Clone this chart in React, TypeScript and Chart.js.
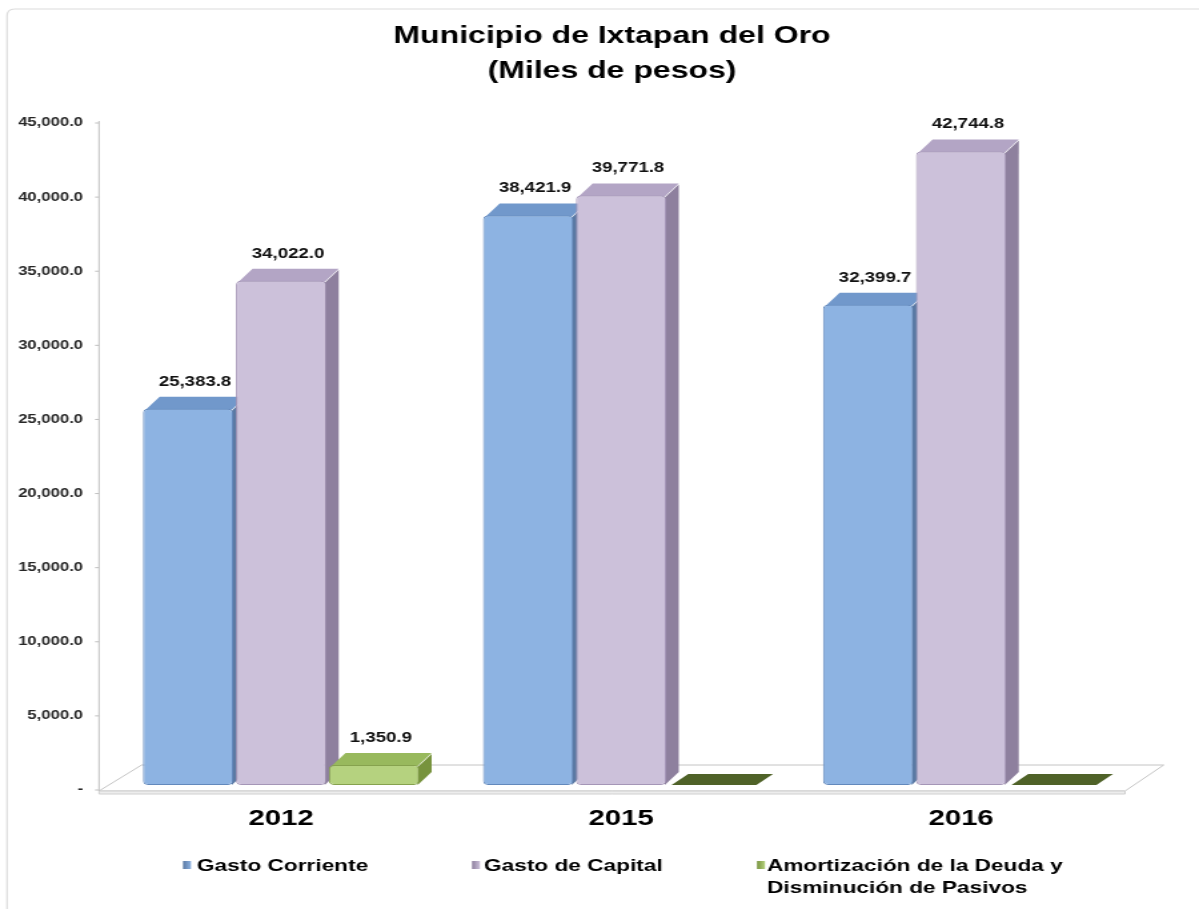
import React, { useEffect, useRef } from 'react';
import { Chart, registerables } from 'chart.js';

Chart.register(...registerables);

// ---- data ----
const categories = ['2012', '2015', '2016'];
const gastoCorriente = [25383.8, 38421.9, 32399.7];
const gastoCapital = [34022.0, 39771.8, 42744.8];
const amortizacion = [1350.9, 0, 0];
const seriesNames = ['Gasto Corriente', 'Gasto de Capital', 'Amortización de la Deuda y Disminución de Pasivos'];
const legendLines = [['Gasto Corriente'], ['Gasto de Capital'], ['Amortización de la Deuda y', 'Disminución de Pasivos']];
const titleLines = ['Municipio de Ixtapan del Oro', '(Miles de pesos)'];
const yMin = 0;
const yMax = 45000;
const yStep = 5000;

// ---- styling ----
const CANVAS_W = 900; // internal width, displayed stretched to 1199
const CANVAS_H = 909;
const SX = 1199 / CANVAS_W;
const DX = 10.5;
const DY = 13;
const FONT = "'Liberation Sans', Arial, sans-serif";

const palette = [
  { front: '#8DB3E2', border: '#6389BC', top: '#7198CB', side: '#5A79A3' },
  { front: '#CCC1DA', border: '#A596B7', top: '#B3A5C5', side: '#8E809E' },
  { front: '#B5D27F', border: '#86A24E', top: '#98B95D', side: '#77933D' },
];
const FLAT = '#4F6228';

const fmt = (v: number) =>
  v.toLocaleString('en-US', { minimumFractionDigits: 1, maximumFractionDigits: 1 });

const poly = (ctx: CanvasRenderingContext2D, pts: number[][], fill: string, stroke?: string) => {
  ctx.beginPath();
  ctx.moveTo(pts[0][0], pts[0][1]);
  for (let i = 1; i < pts.length; i++) ctx.lineTo(pts[i][0], pts[i][1]);
  ctx.closePath();
  ctx.fillStyle = fill;
  ctx.fill();
  if (stroke) {
    ctx.strokeStyle = stroke;
    ctx.lineWidth = 1;
    ctx.stroke();
  }
};

const excel3d = {
  id: 'excel3d',
  beforeDatasetsDraw(chart: any) {
    const ctx: CanvasRenderingContext2D = chart.ctx;
    const ys = chart.scales.y;
    const base = ys.getPixelForValue(0);
    const top = ys.getPixelForValue(yMax);
    ctx.save();

    // outer frame
    ctx.strokeStyle = '#DCDCDC';
    ctx.lineWidth = 1.2;
    ctx.beginPath();
    ctx.moveTo(5.3, CANVAS_H);
    ctx.lineTo(5.3, 16);
    ctx.quadraticCurveTo(5.3, 9, 11, 9);
    ctx.lineTo(CANVAS_W, 9);
    ctx.stroke();

    // floor
    const fl = 74.3, fr = 844.5, fy = base + 6, by = base - 20;
    poly(ctx, [[fl, fy], [fr, fy], [fr + 29, by], [fl + 32, by]], '#FFFFFF', '#C4C4C4');
    poly(ctx, [[fl, fy], [fr, fy], [fr, fy + 3], [fl, fy + 3]], '#EDEDED', '#D0D0D0');

    // y axis line + tick marks
    ctx.strokeStyle = '#BFBFBF';
    ctx.lineWidth = 1;
    ctx.beginPath();
    ctx.moveTo(fl, top + 3);
    ctx.lineTo(fl, fy);
    ctx.stroke();
    ys.ticks.forEach((t: any) => {
      const py = ys.getPixelForValue(t.value) + 5;
      ctx.beginPath();
      ctx.moveTo(fl - 3, py);
      ctx.lineTo(fl, py);
      ctx.stroke();
    });

    // 3D side and top faces
    chart.data.datasets.forEach((ds: any, di: number) => {
      const meta = chart.getDatasetMeta(di);
      const c = palette[di];
      meta.data.forEach((bar: any, i: number) => {
        const p = bar.getProps(['x', 'y', 'width', 'base'], true);
        const l = p.x - p.width / 2;
        const r = p.x + p.width / 2;
        const v = ds.data[i];
        if (v > 0) {
          poly(ctx, [[r - 1, p.y + 2], [r + DX - 1, p.y - DY + 2], [r + DX - 1, p.base - DY], [r - 1, p.base]], c.side);
          poly(ctx, [[l + 2, p.y + 1], [l + DX + 2, p.y - DY + 1], [r + DX - 1, p.y - DY + 1], [r - 1, p.y + 1]], c.top);
        } else {
          poly(ctx, [[l + 2, p.base], [r - 2, p.base], [r + DX, p.base - DY + 2], [l + DX + 4, p.base - DY + 2]], FLAT);
        }
      });
    });
    ctx.restore();
  },
  afterDatasetsDraw(chart: any) {
    const ctx: CanvasRenderingContext2D = chart.ctx;
    ctx.save();
    ctx.font = 'bold 14px ' + FONT;
    ctx.fillStyle = '#111111';
    ctx.textAlign = 'center';
    ctx.textBaseline = 'bottom';
    chart.data.datasets.forEach((ds: any, di: number) => {
      const meta = chart.getDatasetMeta(di);
      meta.data.forEach((bar: any, i: number) => {
        const v = ds.data[i];
        if (!(v > 0)) return;
        const p = bar.getProps(['x', 'y'], true);
        ctx.fillText(fmt(v), p.x + DX / 2, p.y - DY - 7);
      });
    });
    ctx.restore();
  },
  afterDraw(chart: any) {
    const ctx: CanvasRenderingContext2D = chart.ctx;
    ctx.save();
    // title
    ctx.fillStyle = '#000000';
    ctx.textAlign = 'center';
    ctx.textBaseline = 'middle';
    ctx.font = 'bold 24px ' + FONT;
    titleLines.forEach((t, i) => ctx.fillText(t, 612 / SX, 36 + i * 35));

    // legend
    const items = [
      { mx: 183 / SX, tx: 197 / SX },
      { mx: 472 / SX, tx: 484 / SX },
      { mx: 757 / SX, tx: 767 / SX },
    ];
    ctx.textAlign = 'left';
    ctx.font = 'bold 17px ' + FONT;
    items.forEach((it, i) => {
      const c = palette[i];
      const g = ctx.createLinearGradient(it.mx, 0, it.mx + 6, 0);
      g.addColorStop(0, c.side);
      g.addColorStop(1, c.front);
      ctx.fillStyle = g;
      ctx.fillRect(it.mx, 861, 6, 8);
      ctx.fillStyle = '#000000';
      legendLines[i].forEach((line, k) => ctx.fillText(line, it.tx, 866 + k * 22));
    });
    ctx.restore();
  },
};

export default function App() {
  const ref = useRef<HTMLCanvasElement | null>(null);

  useEffect(() => {
    document.body.style.margin = '0';
    const canvas = ref.current!;
    const chart = new Chart(canvas, {
      type: 'bar',
      data: {
        labels: categories,
        datasets: [gastoCorriente, gastoCapital, amortizacion].map((d, i) => ({
          label: seriesNames[i],
          data: d,
          backgroundColor: palette[i].front,
          borderColor: palette[i].border,
          borderWidth: 1,
          borderRadius: 4,
          borderSkipped: false,
          categoryPercentage: 0.82,
          barPercentage: 0.97,
        })),
      },
      options: {
        responsive: false,
        animation: false,
        devicePixelRatio: 1,
        layout: { padding: { top: 118, left: 0, right: 51, bottom: 74 } },
        plugins: {
          legend: { display: false },
          title: { display: false },
          tooltip: { enabled: false },
        },
        scales: {
          x: {
            grid: { display: false, drawTicks: false },
            border: { display: false },
            ticks: {
              padding: 21,
              color: '#000000',
              font: { family: FONT, size: 22, weight: 'bold' },
            },
            afterFit: (s: any) => {
              s.height = 50;
            },
          },
          y: {
            min: yMin,
            max: yMax,
            grid: { display: false, drawTicks: false },
            border: { display: false },
            ticks: {
              stepSize: yStep,
              padding: 21,
              labelOffset: 5,
              color: '#262626',
              font: { family: FONT, size: 12.5, weight: 'bold' },
              callback: (v: any) => (Number(v) === 0 ? '-' : fmt(Number(v))),
            },
            afterFit: (s: any) => {
              s.width = 83.3;
            },
          },
        },
      },
      plugins: [excel3d],
    } as any);
    return () => chart.destroy();
  }, []);

  return (
    <canvas
      ref={ref}
      width={CANVAS_W}
      height={CANVAS_H}
      style={{ display: 'block', width: '1199px', height: '909px' }}
    />
  );
}
